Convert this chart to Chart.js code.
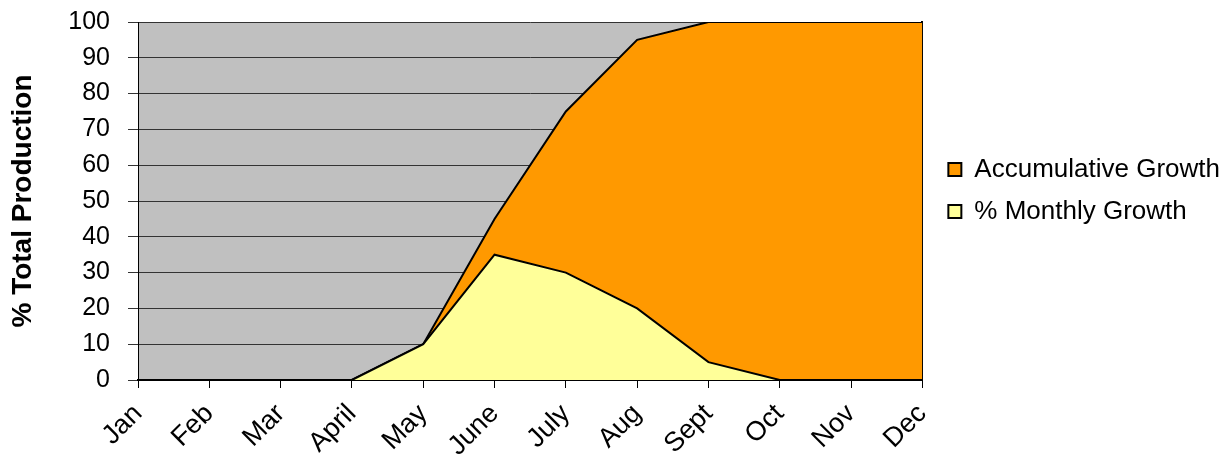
<!DOCTYPE html>
<html>
<head>
<meta charset="utf-8">
<script src="https://cdn.jsdelivr.net/npm/chart.js@4"></script>
<style>
  body { margin: 0; background: #fff; }
  #wrap { width: 1230px; height: 455px; }
</style>
</head>
<body>
<div id="wrap"><canvas id="chart" width="1230" height="455"></canvas></div>
<script>
// data
const months = ['Jan', 'Feb', 'Mar', 'April', 'May', 'June', 'July', 'Aug', 'Sept', 'Oct', 'Nov', 'Dec'];
const accumulativeGrowth = [0, 0, 0, 0, 10, 45, 75, 95, 100, 100, 100, 100];
const monthlyGrowth = [0, 0, 0, 0, 10, 35, 30, 20, 5, 0, 0, 0];
const yMin = 0;
const yMax = 100;
const yStep = 10;

const fontFamily = "'Liberation Sans', Arial, sans-serif";

// gray plot background
const plotBg = {
  id: 'plotBg',
  beforeDraw(chart) {
    const { ctx, chartArea: a } = chart;
    ctx.save();
    ctx.fillStyle = '#c0c0c0';
    ctx.fillRect(a.left, a.top, a.right - a.left, a.bottom - a.top);
    ctx.restore();
  }
};

let ctx = document.getElementById('chart').getContext('2d');
window.growthChart = new Chart(ctx, {
  type: 'line',
  data: {
    labels: months,
    datasets: [
      {
        label: '% Monthly Growth',
        data: monthlyGrowth,
        backgroundColor: '#ffff99',
        borderColor: '#000',
        borderWidth: 2,
        fill: 'origin',
        tension: 0,
        pointRadius: 0
      },
      {
        label: 'Accumulative Growth',
        data: accumulativeGrowth,
        backgroundColor: '#ff9900',
        borderColor: '#000',
        borderWidth: 2,
        fill: 'origin',
        tension: 0,
        pointRadius: 0
      }
    ]
  },
  options: {
    responsive: false,
    animation: false,
    layout: { padding: { top: 22, left: 0, right: 0, bottom: 0 } },
    plugins: {
      tooltip: { enabled: false },
      legend: {
        position: 'right',
        align: 'start',
        fullSize: false,
        reverse: true,
        maxWidth: 340,
        title: { display: true, text: '', font: { size: 12 }, padding: 52 },
        labels: {
          boxWidth: 13,
          boxHeight: 13,
          padding: 16,
          color: '#000',
          font: { family: fontFamily, size: 26 }
        }
      }
    },
    scales: {
      x: {
        offset: false,
        afterFit(scale) { scale.height = 75; },
        grid: { drawOnChartArea: false, drawTicks: true, tickLength: 8, color: '#000' },
        border: { color: '#000', width: 2 },
        ticks: {
          autoSkip: false,
          minRotation: 45,
          maxRotation: 45,
          padding: 10,
          color: '#000',
          font: { family: fontFamily, size: 27 }
        }
      },
      y: {
        min: yMin,
        max: yMax,
        afterFit(scale) { scale.width = 138; },
        grid: { color: '#333', lineWidth: 1, tickLength: 10 },
        border: { color: '#000', width: 1 },
        ticks: {
          stepSize: yStep,
          padding: 18,
          color: '#000',
          font: { family: fontFamily, size: 25, lineHeight: 0.3 }
        },
        title: {
          display: true,
          text: '% Total Production',
          color: '#000',
          padding: { top: 6, bottom: 0 },
          font: { family: fontFamily, size: 28, weight: 'bold' }
        }
      },
      // right edge of the plot
      yRight: {
        position: 'right',
        min: yMin,
        max: yMax,
        afterFit(scale) { scale.width = 10; },
        grid: { drawOnChartArea: false, drawTicks: false },
        border: { color: '#000', width: 2 },
        ticks: { display: false }
      }
    }
  },
  plugins: [plotBg]
});
</script>
</body>
</html>
